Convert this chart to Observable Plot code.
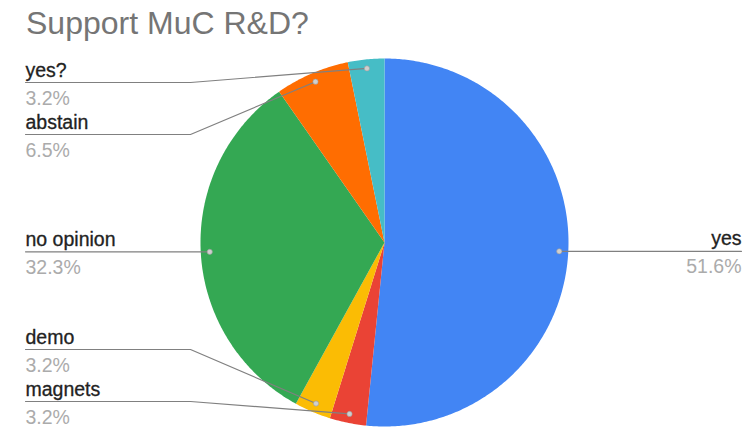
<!DOCTYPE html>
<html><head><meta charset="utf-8">
<script src="https://cdn.jsdelivr.net/npm/d3@7"></script>
<script src="https://cdn.jsdelivr.net/npm/@observablehq/plot@0.6"></script>
<style>
body{margin:0;background:#fff;}
#wrap{position:relative;width:756px;height:433px;font-family:"Liberation Sans",Arial,sans-serif;overflow:hidden;}
#title{position:absolute;left:26px;top:7px;font-size:32px;line-height:1;color:#757575;white-space:nowrap;}
#chart{position:absolute;left:0;top:0;}
</style></head><body>
<div id="wrap"><div id="chart"></div><div id="title">Support MuC R&amp;D?</div></div>
<script>
const labels = ["yes", "magnets", "demo", "no opinion", "abstain", "yes?"];
const percents = [51.6, 3.2, 3.2, 32.3, 6.5, 3.2];
const colors = ["#4285F4", "#EA4335", "#FBBC04", "#34A853", "#FF6D01", "#46BDC6"];

const W = 756, H = 433, cx = 384, cy = 242, R = 184;
const dotR = 0.951;
const pie = d3.pie().sort(null).value(d => d)(percents);

// slice outlines (unit circle, y up)
const slicePts = [];
pie.forEach((a, i) => {
  slicePts.push({k: i, x: 0, y: 0});
  const n = Math.max(2, Math.ceil((a.endAngle - a.startAngle) / 0.01));
  for (let j = 0; j <= n; j++) {
    const t = a.startAngle + (a.endAngle - a.startAngle) * j / n;
    slicePts.push({k: i, x: Math.sin(t), y: Math.cos(t)});
  }
});

// label layout
const items = pie.map((a, i) => {
  const m = (a.startAngle + a.endAngle) / 2;
  const dx = dotR * Math.sin(m), dy = dotR * Math.cos(m);
  return {i, name: labels[i], pct: percents[i].toFixed(1) + "%", dx, dy,
          py: cy - R * dy, side: dx >= 0 ? "right" : "left"};
});
const minY = 82, maxY = 401, gap = 52;
for (const side of ["left", "right"]) {
  const s = items.filter(d => d.side === side).sort((a, b) => a.py - b.py);
  s.forEach(d => d.ly = Math.min(maxY, Math.max(minY, d.py)));
  for (let k = 1; k < s.length; k++) s[k].ly = Math.max(s[k].ly, s[k - 1].ly + gap);
  if (s.length) s[s.length - 1].ly = Math.min(s[s.length - 1].ly, maxY);
  for (let k = s.length - 2; k >= 0; k--) s[k].ly = Math.min(s[k].ly, s[k + 1].ly - gap);
}
const toUx = px => (px - cx) / R, toUy = py => (cy - py) / R;
items.forEach(d => {
  d.uy = toUy(d.ly);
  d.tx = toUx(d.side === "left" ? 25 : 741);
  d.ex = toUx(d.side === "left" ? 190 : 576);
});
const leader = [];
items.forEach(d => {
  leader.push({k: d.i, x: d.tx, y: d.uy});
  leader.push({k: d.i, x: d.ex, y: d.uy});
  leader.push({k: d.i, x: d.dx, y: d.dy});
});
const leftItems = items.filter(d => d.side === "left");
const rightItems = items.filter(d => d.side === "right");
const textMarks = [];
for (const [arr, anchor] of [[leftItems, "start"], [rightItems, "end"]]) {
  textMarks.push(Plot.text(arr, {x: "tx", y: "uy", text: "name", textAnchor: anchor,
    lineAnchor: "bottom", dy: -6, fontSize: 19.5, fill: "#222", stroke: "#222", strokeWidth: 0.3}));
  textMarks.push(Plot.text(arr, {x: "tx", y: "uy", text: "pct", textAnchor: anchor,
    lineAnchor: "bottom", dy: 22, fontSize: 19.5, fill: "#ababab"}));
}

const chart = Plot.plot({
  width: W, height: H, margin: 0,
  style: {fontFamily: "Liberation Sans, Arial, sans-serif", background: "transparent"},
  x: {domain: [-cx / R, (W - cx) / R], axis: null},
  y: {domain: [-(H - cy) / R, cy / R], axis: null},
  color: {type: "identity"},
  marks: [
    Plot.line(slicePts, {x: "x", y: "y", z: "k", fill: d => colors[d.k], stroke: "none", curve: "linear-closed"}),
    Plot.line(leader, {x: "x", y: "y", z: "k", stroke: "#808080", strokeWidth: 1.2}),
    Plot.dot(items, {x: "dx", y: "dy", r: 2.6, fill: "#cfcfcf", stroke: "#9a9a9a", strokeWidth: 0.6}),
    ...textMarks
  ]
});
document.getElementById("chart").appendChild(chart);
</script>
</body></html>
